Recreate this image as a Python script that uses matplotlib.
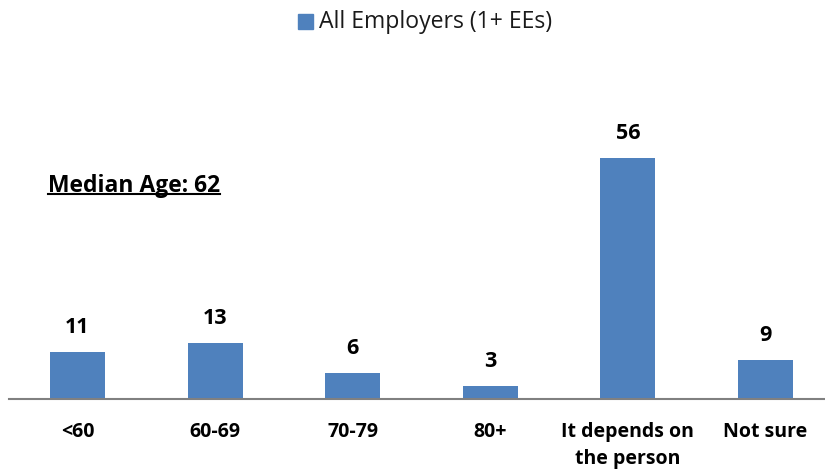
import matplotlib
matplotlib.use("Agg")
import matplotlib.pyplot as plt
from matplotlib.patches import Rectangle
from matplotlib.lines import Line2D

categories = ["<60", "60-69", "70-79", "80+", "It depends on\nthe person", "Not sure"]
values = [11, 13, 6, 3, 56, 9]
series_name = "All Employers (1+ EEs)"
note = "Median Age: 62"

bar_color = "#4F81BD"
W, H = 825, 469
fig = plt.figure(figsize=(W / 100, H / 100), dpi=100)

base_y = 399
px_per_unit = 4.30
top_val = 60
ax_h = top_val * px_per_unit
left_px = 8.7
ax_w_px = 825.6
ax = fig.add_axes([left_px / W, (H - base_y) / H, ax_w_px / W, ax_h / H])

FONT = "Open Sans"
x = list(range(len(categories)))
ax.bar(x, values, width=0.40, color=bar_color)
ax.set_xlim(-0.5, len(categories) - 0.5)
ax.set_ylim(0, top_val)

for xi, v in zip(x, values):
    ax.annotate(str(v), (xi, v), xytext=(0, 13.7), textcoords="offset points",
                ha="center", va="baseline", fontsize=15.5, fontweight="bold",
                family=FONT, color="black")

for s in ["top", "right", "left"]:
    ax.spines[s].set_visible(False)
ax.spines["bottom"].set_color("#808080")
ax.spines["bottom"].set_linewidth(1.5)
ax.set_yticks([])
ax.set_xticks(x)
ax.set_xticklabels(categories, fontsize=14, fontweight="bold", family=FONT,
                   linespacing=1.45, va="top")
ax.tick_params(axis="x", length=0, pad=16.5)

# legend (manual, centered at top)
fig.patches.append(Rectangle((298 / W, 1 - 29 / H), 15 / W, 15 / H,
                             transform=fig.transFigure, color=bar_color))
fig.text(319 / W, 1 - 28.3 / H, series_name, fontsize=16.6, family=FONT,
         ha="left", va="baseline", color="#1a1a1a")

# Median age note with underline
t = fig.text(48 / W, 1 - 191.7 / H, note, fontsize=16.5, fontweight="bold",
             family=FONT, ha="left", va="baseline")
fig.canvas.draw()
bb = t.get_window_extent()
uy = 1 - 194.2 / H
fig.lines.append(Line2D([bb.x0 / W, bb.x1 / W], [uy, uy], transform=fig.transFigure,
                        color="black", linewidth=1.5))

fig.savefig("out.png", dpi=100)
